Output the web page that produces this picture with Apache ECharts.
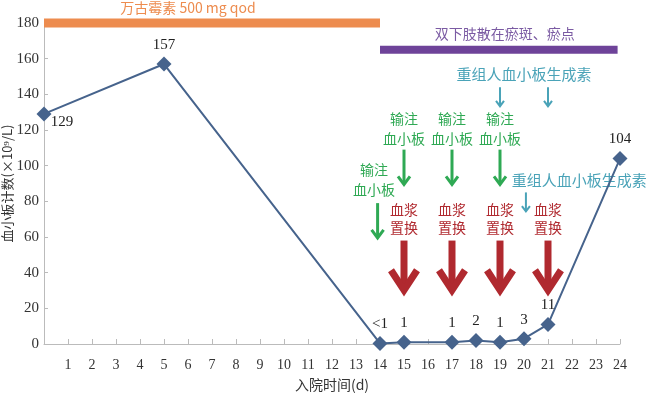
<!DOCTYPE html>
<html><head><meta charset="utf-8">
<script src="https://cdn.jsdelivr.net/npm/echarts@6/dist/echarts.min.js"></script>
<style>html,body{margin:0;padding:0;background:#fff}#c{width:650px;height:394px}</style>
</head><body><div id="c"></div>
<script>
// ---- data ----
const days = [0, 5, 14, 15, 17, 18, 19, 20, 21, 24];
const counts = [129, 157, 0.3, 1, 1, 2, 1, 3, 11, 104];
const pointLabels = ['129', '157', '<1', '1', '1', '2', '1', '3', '11', '104'];
const xTicks = [1,2,3,4,5,6,7,8,9,10,11,12,13,14,15,16,17,18,19,20,21,22,23,24];
// treatment bars: [startDay, endDay, level]
const drugBar = [0, 14, 180];
const symptomBar = [14, 23.9, 165];
const drugText = '万古霉素 500 mg qod';
const symptomText = '双下肢散在瘀斑、瘀点';
// platelet transfusion
const transfusionDays = [13.75, 15, 17, 19];
const transfusionTextLevel = [92, 121, 121, 121];
const transfusionArrowDays = [13.9, 15, 17, 19];
const transfusionArrowFrom = [79, 109, 109, 109];
const transfusionArrowTo = [59, 89, 89, 89];
const transfusionText = '输注\n血小板';
// plasma exchange
const plasmaDays = [15, 17, 19, 21];
const plasmaTextLevel = 70;
const plasmaArrowFrom = 58, plasmaArrowTo = 29;
const plasmaText = '血浆\n置换';
// rhTPO
const tpoTexts = ['重组人血小板生成素', '重组人血小板生成素'];
const tpoTextPos = [[20.0, 151], [22.3, 92]];
const tpoArrowDays = [19, 21, 20.08];
const tpoArrowFrom = [144, 144, 85];
const tpoArrowTo = [133, 133, 74];

const SERIF = '"Liberation Serif","Noto Sans CJK SC",serif';
const CJK = '"Noto Sans CJK SC","Liberation Serif",sans-serif';
const C_LINE = '#46638c', C_ORANGE = '#ed8c4f', C_PURPLE = '#6e4399', C_PTXT = '#7b5ba3',
      C_TEAL = '#4aa3b8', C_GREEN = '#2fa954', C_RED = '#b0292f';

function arrowSeries(name, xs, from, to, color, w, headW, headH) {
  return {
    type: 'custom', name, clip: false, z: 3,
    data: xs.map((x, i) => [x, Array.isArray(from) ? from[i] : from, Array.isArray(to) ? to[i] : to]),
    renderItem: (params, api) => {
      const a = api.coord([api.value(0), api.value(1)]);
      const b = api.coord([api.value(0), api.value(2)]);
      return { type: 'group', children: [
        { type: 'polyline', shape: { points: [[a[0], a[1]], [b[0], b[1] - w * 0.4]] },
          style: { stroke: color, lineWidth: w, fill: null } },
        { type: 'polyline', shape: { points: [[b[0] - headW, b[1] - headH], [b[0], b[1] - w * 0.3], [b[0] + headW, b[1] - headH]] },
          style: { stroke: color, lineWidth: w, fill: null, lineJoin: 'miter', lineCap: 'butt' } }
      ]};
    }
  };
}
function textSeries(name, pos, texts, color, fontSize, lineHeight) {
  return {
    type: 'custom', name, clip: false, z: 3,
    data: pos,
    renderItem: (params, api) => {
      const p = api.coord([api.value(0), api.value(1)]);
      return { type: 'text', x: p[0], y: p[1], style: {
        text: Array.isArray(texts) ? texts[params.dataIndex] : texts,
        fill: color, fontSize, fontFamily: CJK, align: 'center', verticalAlign: 'middle', lineHeight } };
    }
  };
}
function barSeries(name, bar, color, h) {
  return {
    type: 'custom', name, clip: false, z: 2,
    data: [bar],
    renderItem: (params, api) => {
      const a = api.coord([api.value(0), api.value(2)]);
      const b = api.coord([api.value(1), api.value(2)]);
      return { type: 'rect', shape: { x: a[0], y: a[1] - h / 2, width: b[0] - a[0], height: h }, style: { fill: color } };
    }
  };
}

const chart = echarts.init(document.getElementById('c'), null, { renderer: 'canvas' });
chart.setOption({
  animation: false,
  grid: { left: 44, right: 30, top: 23, bottom: 50, containLabel: false, outerBoundsMode: 'none' },
  xAxis: {
    type: 'value', min: 0, max: 24, interval: 1,
    name: '入院时间(d)', nameLocation: 'middle', nameGap: 34, nameMoveOverlap: false,
    nameTextStyle: { fontFamily: CJK, fontSize: 14, color: '#333' },
    axisLine: { show: true, lineStyle: { color: '#bbb', width: 1 } },
    axisTick: { show: true, inside: true, length: 5, lineStyle: { color: '#bbb' } },
    axisLabel: { fontFamily: SERIF, fontSize: 14, color: '#333', margin: 14,
      formatter: v => xTicks.indexOf(v) >= 0 ? String(v) : '' },
    splitLine: { show: false }
  },
  yAxis: {
    type: 'value', min: 0, max: 180, interval: 20,
    name: '血小板计数(×10⁹/L)', nameLocation: 'middle', nameGap: 30, nameRotate: 90, nameMoveOverlap: false,
    nameTextStyle: { fontFamily: CJK, fontSize: 13, color: '#333' },
    axisLine: { show: true, lineStyle: { color: '#bbb', width: 1 } },
    axisTick: { show: true, inside: true, length: 4, lineStyle: { color: '#bbb' } },
    axisLabel: { fontFamily: SERIF, fontSize: 15, color: '#333', margin: 5 },
    splitLine: { show: false }
  },
  series: [
    barSeries('drug', drugBar, C_ORANGE, 9),
    barSeries('symptom', symptomBar, C_PURPLE, 8),
    textSeries('drugText', [[6.0, 188.5]], drugText, C_ORANGE, 14, 16),
    textSeries('symptomText', [[19.2, 174]], symptomText, C_PTXT, 14, 16),
    textSeries('tpoText', tpoTextPos, tpoTexts, C_TEAL, 15, 16),
    arrowSeries('tpoArrow', tpoArrowDays, tpoArrowFrom, tpoArrowTo, C_TEAL, 2, 4, 6),
    textSeries('transText', transfusionDays.map((d, i) => [d, transfusionTextLevel[i]]), transfusionText, C_GREEN, 14, 20),
    arrowSeries('transArrow', transfusionArrowDays, transfusionArrowFrom, transfusionArrowTo, C_GREEN, 3, 6, 9),
    textSeries('plasmaText', plasmaDays.map(d => [d, plasmaTextLevel]), plasmaText, C_RED, 14, 18),
    arrowSeries('plasmaArrow', plasmaDays, plasmaArrowFrom, plasmaArrowTo, C_RED, 7, 13, 22),
    {
      type: 'line', name: 'plt', z: 5,
      data: days.map((d, i) => [d, counts[i]]),
      symbol: 'diamond', symbolSize: 15,
      lineStyle: { color: C_LINE, width: 2 },
      itemStyle: { color: C_LINE },
      label: {
        show: true, position: 'top', distance: 4,
        fontFamily: SERIF, fontSize: 15, color: '#222',
        formatter: p => pointLabels[p.dataIndex]
      },
      labelLayout: p => p.dataIndex === 0 ? { dx: 18, dy: 27 } : {}
    }
  ]
});
</script>
</body></html>
